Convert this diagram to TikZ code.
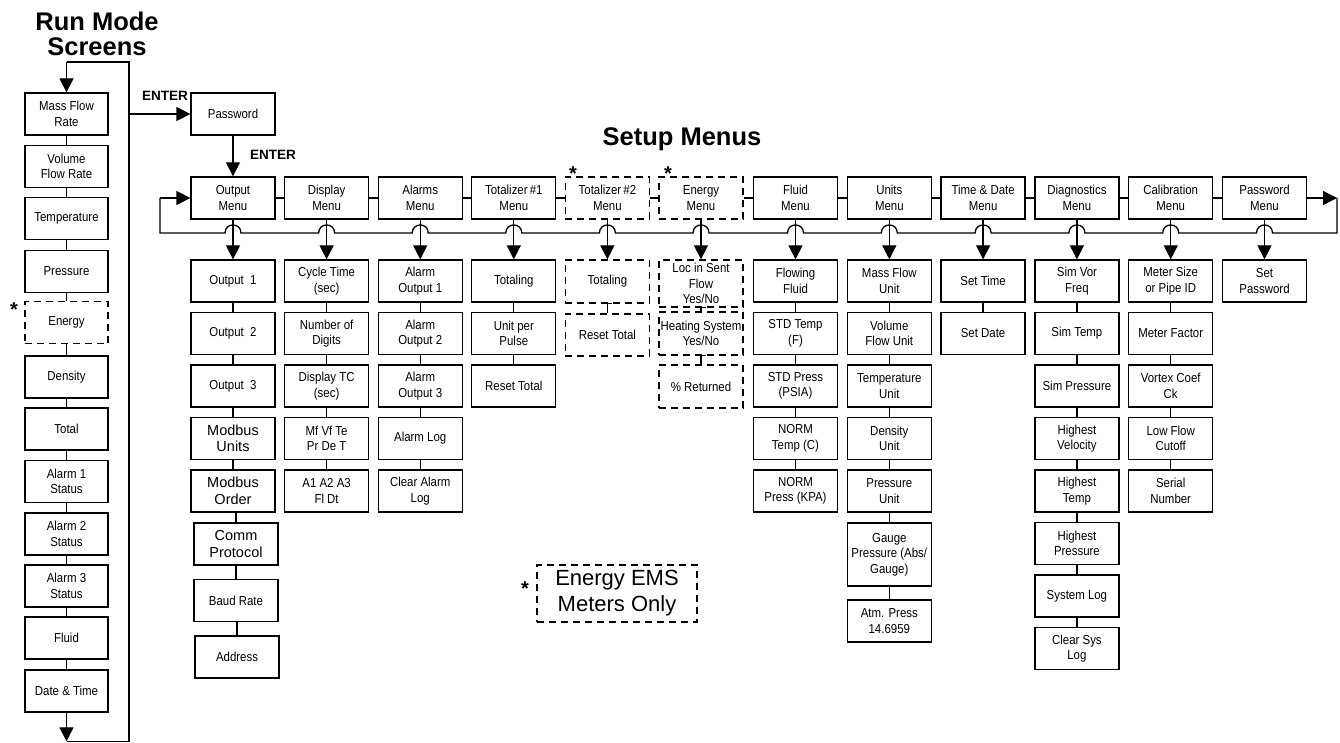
\documentclass[tikz,border=0pt]{standalone}
\usepackage{fontspec}
\setmainfont{Liberation Sans}[FakeStretch=0.88]
\newfontfamily\widefont{Liberation Sans}
\usetikzlibrary{arrows.meta}
\tikzset{
  box/.style={draw, line width=1.3pt, minimum width=84pt, minimum height=42pt, inner sep=0pt, align=center, font=\fontsize{13}{15.5}\selectfont},
  dbox/.style={box, dash pattern=on 7pt off 5pt},
  conn/.style={line width=1.3pt},
  arr/.style={line width=1.3pt, -{Triangle[length=14pt,width=14pt]}},
  titletxt/.style={font=\widefont\bfseries\fontsize{25.5}{25}\selectfont, align=center, inner sep=0pt},
  entertxt/.style={font=\widefont\bfseries\fontsize{13.5}{15}\selectfont, inner sep=0pt},
  startxt/.style={font=\widefont\bfseries\fontsize{20}{20}\selectfont, inner sep=0pt},
  bigtxt/.style={font=\widefont\fontsize{14.5}{16.5}\selectfont}
}
\begin{document}
\begin{tikzpicture}[x=1pt,y=-1pt]
\useasboundingbox (0,0) rectangle (1340,743);

% titles
\node[titletxt] (ttl1) at (97,34) {Run Mode\\Screens};
\node[titletxt] (ttl2) at (682,139.5) {Setup Menus};
\node[entertxt] (ent1) at (165,96) {ENTER};
\node[entertxt] (ent2) at (273,155) {ENTER};

% run mode column
\node[box, minimum width=83pt] (r1) at (66.5,114) {Mass Flow\\Rate};
\node[box, minimum width=83pt] (r2) at (66.5,166.4) {Volume\\Flow Rate};
\node[box, minimum width=83pt] (r3) at (66.5,218.8) {Temperature};
\node[box, minimum width=83pt] (r4) at (66.5,271.2) {Pressure};
\node[dbox, minimum width=83pt] (r5) at (66.5,322.6) {Energy};
\node[box, minimum width=83pt] (r6) at (66.5,377) {Density};
\node[box, minimum width=83pt] (r7) at (66.5,429) {Total};
\node[box, minimum width=83pt] (r8) at (66.5,481.5) {Alarm 1\\Status};
\node[box, minimum width=83pt] (r9) at (66.5,534) {Alarm 2\\Status};
\node[box, minimum width=83pt] (r10) at (66.5,586) {Alarm 3\\Status};
\node[box, minimum width=83pt] (r11) at (66.5,638) {Fluid};
\node[box, minimum width=83pt] (r12) at (66.5,691) {Date \& Time};
\foreach \a/\b in {r1/r2,r2/r3,r3/r4,r4/r5,r5/r6,r6/r7,r7/r8,r8/r9,r9/r10,r10/r11,r11/r12}
  \draw[conn] (\a.south) -- (\b.north);
\node[startxt] (st1) at (14,310) {*};

\coordinate (rb) at (66.5,741.3);
\coordinate (rbr) at (129,741.3);
\coordinate (rtr) at (129,62);
\coordinate (rt) at (66.5,62);
\coordinate (tap) at (129,114);
\draw[arr] (r12.south) -- (rb);
\draw[conn] (rb) -- (rbr) -- (rtr) -- (rt);
\draw[arr] (rt) -- (r1.north);

% password
\node[box] (pw) at (233,114) {Password};
\draw[arr] (tap) -- (pw.west);

% menu row
\node[box] (m1) at (233,198) {Output\\Menu};
\node[box] (m2) at (326.6,198) {Display\\Menu};
\node[box] (m3) at (420.2,198) {Alarms\\Menu};
\node[box] (m4) at (513.8,198) {Totalizer\,\#1\\Menu};
\node[dbox] (m5) at (607.4,198) {Totalizer\,\#2\\Menu};
\node[dbox] (m6) at (701,198) {Energy\\Menu};
\node[box] (m7) at (795.5,198) {Fluid\\Menu};
\node[box] (m8) at (889.3,198) {Units\\Menu};
\node[box] (m9) at (983.1,198) {Time \& Date\\Menu};
\node[box] (m10) at (1076.9,198) {Diagnostics\\Menu};
\node[box] (m11) at (1170.7,198) {Calibration\\Menu};
\node[box] (m12) at (1264.5,198) {Password\\Menu};
\draw[arr] (pw.south) -- (m1.north);
\foreach \a/\b in {m1/m2,m2/m3,m3/m4,m4/m5,m5/m6,m6/m7,m7/m8,m8/m9,m9/m10,m10/m11,m11/m12}
  \draw[conn] (\a.east) -- (\b.west);
\node[startxt] (st2) at (573,174) {*};
\node[startxt] (st3) at (668,174) {*};

% loop back
\coordinate (le) at (1337,198);
\coordinate (lr) at (1337,233);
\coordinate (ll) at (160,233);
\coordinate (ls) at (160,198);
\draw[arr] (m12.east) -- (le);
\draw[conn] (le) -- (lr)
  foreach \c in {1264.5,1170.7,1076.9,983.1,889.3,795.5,701,607.4,513.8,420.2,326.6,233}
  { -- ({\c+8},233) .. controls ({\c+8},222.3) and ({\c-8},222.3) .. ({\c-8},233) }
  -- (ll) -- (ls);
\draw[arr] (ls) -- (m1.west);

% Output column
\node[box] (o1) at (233,281) {Output\ \ 1};
\node[box] (o2) at (233,333.5) {Output\ \ 2};
\node[box] (o3) at (233,386) {Output\ \ 3};
\node[box, bigtxt] (o4) at (233,438.5) {Modbus\\Units};
\node[box, bigtxt] (o5) at (233,491) {Modbus\\Order};
\node[box, bigtxt] (o6) at (236,544) {Comm\\Protocol};
\node[box] (o7) at (236,600.5) {Baud Rate};
\node[box] (o8) at (237,657) {Address};

% Display column
\node[box] (d1) at (326.6,281) {Cycle Time\\(sec)};
\node[box] (d2) at (326.6,333.5) {Number of\\Digits};
\node[box] (d3) at (326.6,386) {Display TC\\(sec)};
\node[box] (d4) at (326.6,438.5) {Mf Vf Te\\Pr De T};
\node[box] (d5) at (326.6,491) {A1 A2 A3\\Fl Dt};

% Alarms column
\node[box] (a1) at (420.2,281) {Alarm\\Output 1};
\node[box] (a2) at (420.2,333.5) {Alarm\\Output 2};
\node[box] (a3) at (420.2,386) {Alarm\\Output 3};
\node[box] (a4) at (420.2,438.5) {Alarm Log};
\node[box] (a5) at (420.2,491) {Clear Alarm\\Log};

% Totalizer 1
\node[box] (t1) at (513.8,281) {Totaling};
\node[box] (t2) at (513.8,333.5) {Unit per\\Pulse};
\node[box] (t3) at (513.8,386) {Reset Total};

% Totalizer 2
\node[dbox, minimum height=43pt] (u1) at (607.4,281.5) {Totaling};
\node[dbox] (u2) at (607.4,335) {Reset Total};

% Energy
\node[dbox, minimum height=47pt] (e1) at (701,283.5) {Loc in Sent\\Flow\\Yes/No};
\node[dbox, minimum height=43pt] (e2) at (701,333.5) {Heating System\\Yes/No};
\node[dbox, minimum height=43pt] (e3) at (701,386.5) {\% Returned};

% Fluid
\node[box] (f1) at (795.5,281) {Flowing\\Fluid};
\node[box] (f2) at (795.5,333.5) {STD Temp\\(F)};
\node[box] (f3) at (795.5,386) {STD Press\\(PSIA)};
\node[box] (f4) at (795.5,438.5) {NORM\\Temp (C)};
\node[box] (f5) at (795.5,491) {NORM\\Press (KPA)};

% Units
\node[box] (n1) at (889.3,281) {Mass Flow\\Unit};
\node[box] (n2) at (889.3,333.5) {Volume\\Flow Unit};
\node[box] (n3) at (889.3,386) {Temperature\\Unit};
\node[box] (n4) at (889.3,438.5) {Density\\Unit};
\node[box] (n5) at (889.3,491) {Pressure\\Unit};
\node[box, minimum height=63pt] (n6) at (889.3,554.5) {Gauge\\Pressure (Abs/\\Gauge)};
\node[box] (n7) at (889.3,621) {Atm. Press\\14.6959};

% Time & Date
\node[box] (td1) at (983.1,281) {Set Time};
\node[box] (td2) at (983.1,333.5) {Set Date};

% Diagnostics
\node[box] (g1) at (1076.9,281) {Sim Vor\\Freq};
\node[box] (g2) at (1076.9,333.5) {Sim Temp};
\node[box] (g3) at (1076.9,386) {Sim Pressure};
\node[box] (g4) at (1076.9,438.5) {Highest\\Velocity};
\node[box] (g5) at (1076.9,491) {Highest\\Temp};
\node[box] (g6) at (1076.9,543.5) {Highest\\Pressure};
\node[box] (g7) at (1076.9,596) {System Log};
\node[box] (g8) at (1076.9,648.5) {Clear Sys\\Log};

% Calibration
\node[box] (c1) at (1170.7,281) {Meter Size\\or Pipe ID};
\node[box] (c2) at (1170.7,333.5) {Meter Factor};
\node[box] (c3) at (1170.7,386) {Vortex Coef\\Ck};
\node[box] (c4) at (1170.7,438.5) {Low Flow\\Cutoff};
\node[box] (c5) at (1170.7,491) {Serial\\Number};

% Password
\node[box] (p1) at (1264.5,281) {Set\\Password};

% arrows from menus
\foreach \a/\b in {m1/o1,m2/d1,m3/a1,m4/t1,m5/u1,m6/e1,m7/f1,m8/n1,m9/td1,m10/g1,m11/c1,m12/p1}
  \draw[arr] (\a.south) -- (\b.north);

% chain connectors
\foreach \a/\b in {o1/o2,o2/o3,o3/o4,o4/o5,o5/o6,o6/o7,o7/o8,
  d1/d2,d2/d3,d3/d4,d4/d5,a1/a2,a2/a3,a3/a4,a4/a5,t1/t2,t2/t3,
  f1/f2,f2/f3,f3/f4,f4/f5,n1/n2,n2/n3,n3/n4,n4/n5,n5/n6,n6/n7,td1/td2,
  g1/g2,g2/g3,g3/g4,g4/g5,g5/g6,g6/g7,g7/g8,c1/c2,c2/c3,c3/c4,c4/c5}
  \draw[conn] (\b.north |- \a.south) -- (\b.north);
\foreach \a/\b in {u1/u2,e1/e2,e2/e3}{
  \draw[conn] (\a.south) -- (\b.north);
  \draw[conn] ([xshift=-5pt]\a.south) -- ([xshift=5pt]\a.south);
}

% legend
\node[dbox, minimum width=160pt, minimum height=57pt, font=\widefont\fontsize{22}{26}\selectfont] (leg) at (617,593.5) {Energy EMS\\Meters Only};
\node[startxt] (st4) at (525,589) {*};
\end{tikzpicture}
\end{document}
